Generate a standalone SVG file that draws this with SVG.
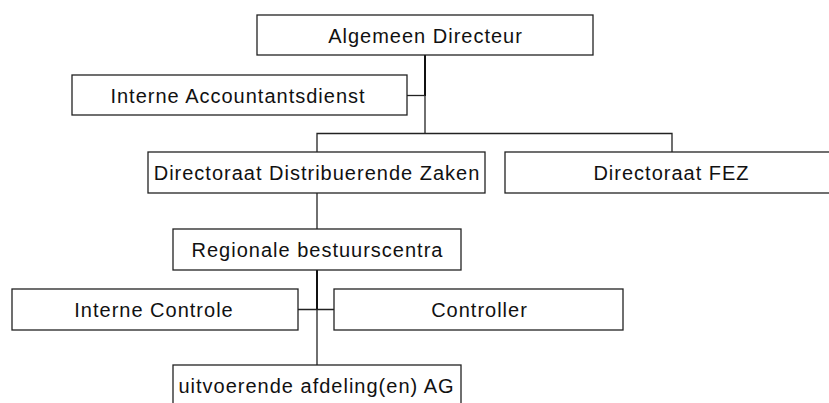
<svg xmlns="http://www.w3.org/2000/svg" width="829" height="403" viewBox="0 0 829 403">
  <style>
    .box { fill: #ffffff; stroke: #222222; stroke-width: 1.3; }
    .lbl { font-family: "Liberation Sans", Arial, sans-serif; font-size: 20px; letter-spacing: 1px; fill: #111111; text-anchor: middle; }
    .wire { fill: none; stroke: #222222; stroke-width: 1.3; }
    .trunk { fill: none; stroke: #111111; stroke-width: 2; }
  </style>
  <rect width="829" height="403" fill="#ffffff"/>

  <!-- connectors -->
  <g id="connectors">
    <path class="trunk" d="M425 55 V96"/>
    <path class="wire" d="M425 96 V133.5"/>
    <path class="wire" d="M407 95.5 H425"/>
    <path class="wire" d="M317 152 V133.5 H672 V152"/>
    <path class="wire" d="M317 193 V229"/>
    <path class="trunk" d="M317 270 V309"/>
    <path class="wire" d="M317 309 V365"/>
    <path class="wire" d="M298 309.5 H334"/>
  </g>

  <g id="algemeen-directeur">
    <rect class="box" x="257" y="15" width="336" height="40"/>
    <text class="lbl" x="425.5" y="42.5">Algemeen Directeur</text>
  </g>

  <g id="interne-accountantsdienst">
    <rect class="box" x="72" y="75" width="335" height="40"/>
    <text class="lbl" x="238" y="102.5">Interne Accountantsdienst</text>
  </g>

  <g id="directoraat-distribuerende-zaken">
    <rect class="box" x="148" y="152" width="337" height="41"/>
    <text class="lbl" x="317" y="179.5">Directoraat Distribuerende Zaken</text>
  </g>

  <g id="directoraat-fez">
    <rect class="box" x="505" y="152" width="332" height="41"/>
    <text class="lbl" x="671.5" y="179.5">Directoraat FEZ</text>
  </g>

  <g id="regionale-bestuurscentra">
    <rect class="box" x="173" y="229" width="288" height="41"/>
    <text class="lbl" x="317.5" y="256.5">Regionale bestuurscentra</text>
  </g>

  <g id="interne-controle">
    <rect class="box" x="12" y="289" width="286" height="41"/>
    <text class="lbl" x="154" y="316.5">Interne Controle</text>
  </g>

  <g id="controller">
    <rect class="box" x="334" y="289" width="289" height="41"/>
    <text class="lbl" x="479.5" y="316.5">Controller</text>
  </g>

  <g id="uitvoerende-afdelingen">
    <rect class="box" x="173" y="365" width="288" height="41"/>
    <text class="lbl" x="316.5" y="393">uitvoerende afdeling(en) AG</text>
  </g>
</svg>
